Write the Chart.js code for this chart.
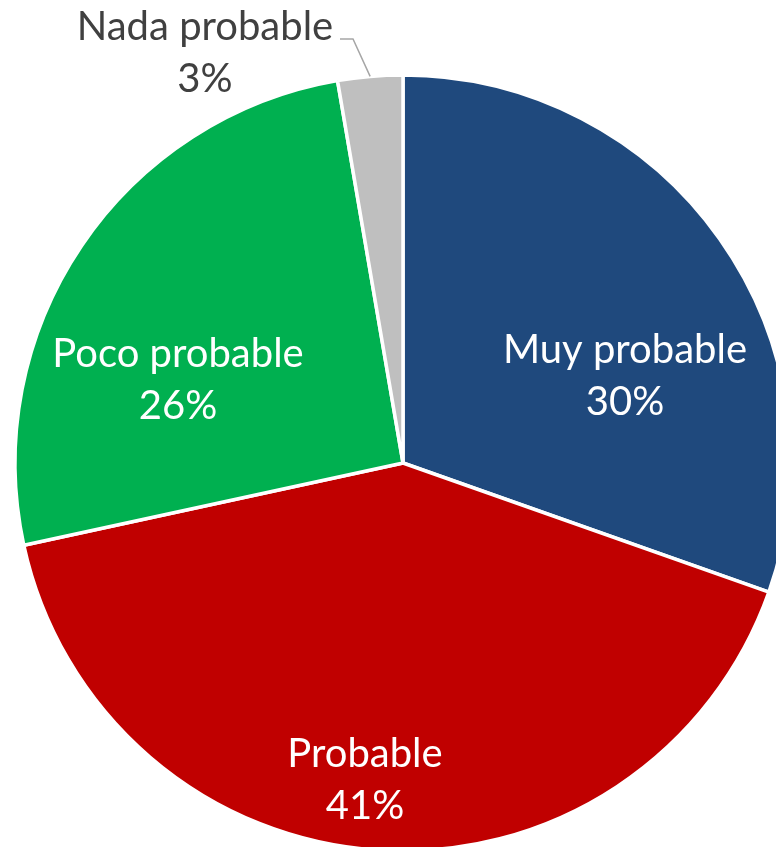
<!DOCTYPE html>
<html><head><meta charset="utf-8">
<script src="https://cdn.jsdelivr.net/npm/chart.js@4/dist/chart.umd.min.js"></script>
<style>
html,body{margin:0;padding:0;background:#fff;overflow:hidden;width:776px;height:847px}
#wrap{position:absolute;left:0;top:0;width:806px;height:926px}
</style>
</head><body><div id="wrap"><canvas id="c" width="806" height="926"></canvas></div>
<script>
const categories = ['Muy probable', 'Probable', 'Poco probable', 'Nada probable'];
const shares = [30.4, 41.2, 25.7, 2.7];
const colors = ['#1F497D', '#C00000', '#00B050', '#BFBFBF'];

// label anchors (offsets from pie centre, px) and text colours
const labelOffsets = [[222, -87], [-38, 317], [-225, -83], [-198, -410]];
const labelColors = ['#FFFFFF', '#FFFFFF', '#FFFFFF', '#404040'];
const FONT = '40px Lato';
const LINE_GAP = 52;

const labelPlugin = {
  id: 'pieLabels',
  afterDatasetsDraw(chart) {
    const ctx = chart.ctx;
    const meta = chart.getDatasetMeta(0);
    const data = chart.data.datasets[0].data;
    const total = data.reduce((a, b) => a + b, 0);
    ctx.save();
    ctx.font = FONT;
    ctx.textAlign = 'center';
    ctx.textBaseline = 'middle';
    meta.data.forEach((arc, i) => {
      const p = arc.getProps(['x', 'y', 'outerRadius', 'startAngle', 'endAngle'], true);
      const lx = p.x + labelOffsets[i][0];
      const ly = p.y + labelOffsets[i][1];
      const pct = Math.round(data[i] / total * 100) + '%';
      if (i === 3) {
        // leader line
        const mid = (p.startAngle + p.endAngle) / 2;
        const sx = p.x + Math.cos(mid) * p.outerRadius;
        const sy = p.y + Math.sin(mid) * p.outerRadius;
        ctx.strokeStyle = '#A6A6A6';
        ctx.lineWidth = 1.5;
        ctx.beginPath();
        ctx.moveTo(sx, sy);
        ctx.lineTo(lx + 148, ly - 14);
        ctx.lineTo(lx + 135, ly - 14);
        ctx.stroke();
      }
      ctx.fillStyle = labelColors[i];
      ctx.fillText(chart.data.labels[i], lx, ly - LINE_GAP / 2);
      ctx.fillText(pct, lx, ly + LINE_GAP / 2);
    });
    ctx.restore();
  }
};

new Chart(document.getElementById('c'), {
  type: 'pie',
  data: {
    labels: categories,
    datasets: [{
      data: shares,
      backgroundColor: colors,
      borderColor: '#FFFFFF',
      borderWidth: 3.5
    }]
  },
  options: {
    responsive: false,
    animation: false,
    radius: 388,
    layout: { padding: 0 },
    plugins: { legend: { display: false }, tooltip: { enabled: false } }
  },
  plugins: [labelPlugin]
});
</script>
</body></html>
